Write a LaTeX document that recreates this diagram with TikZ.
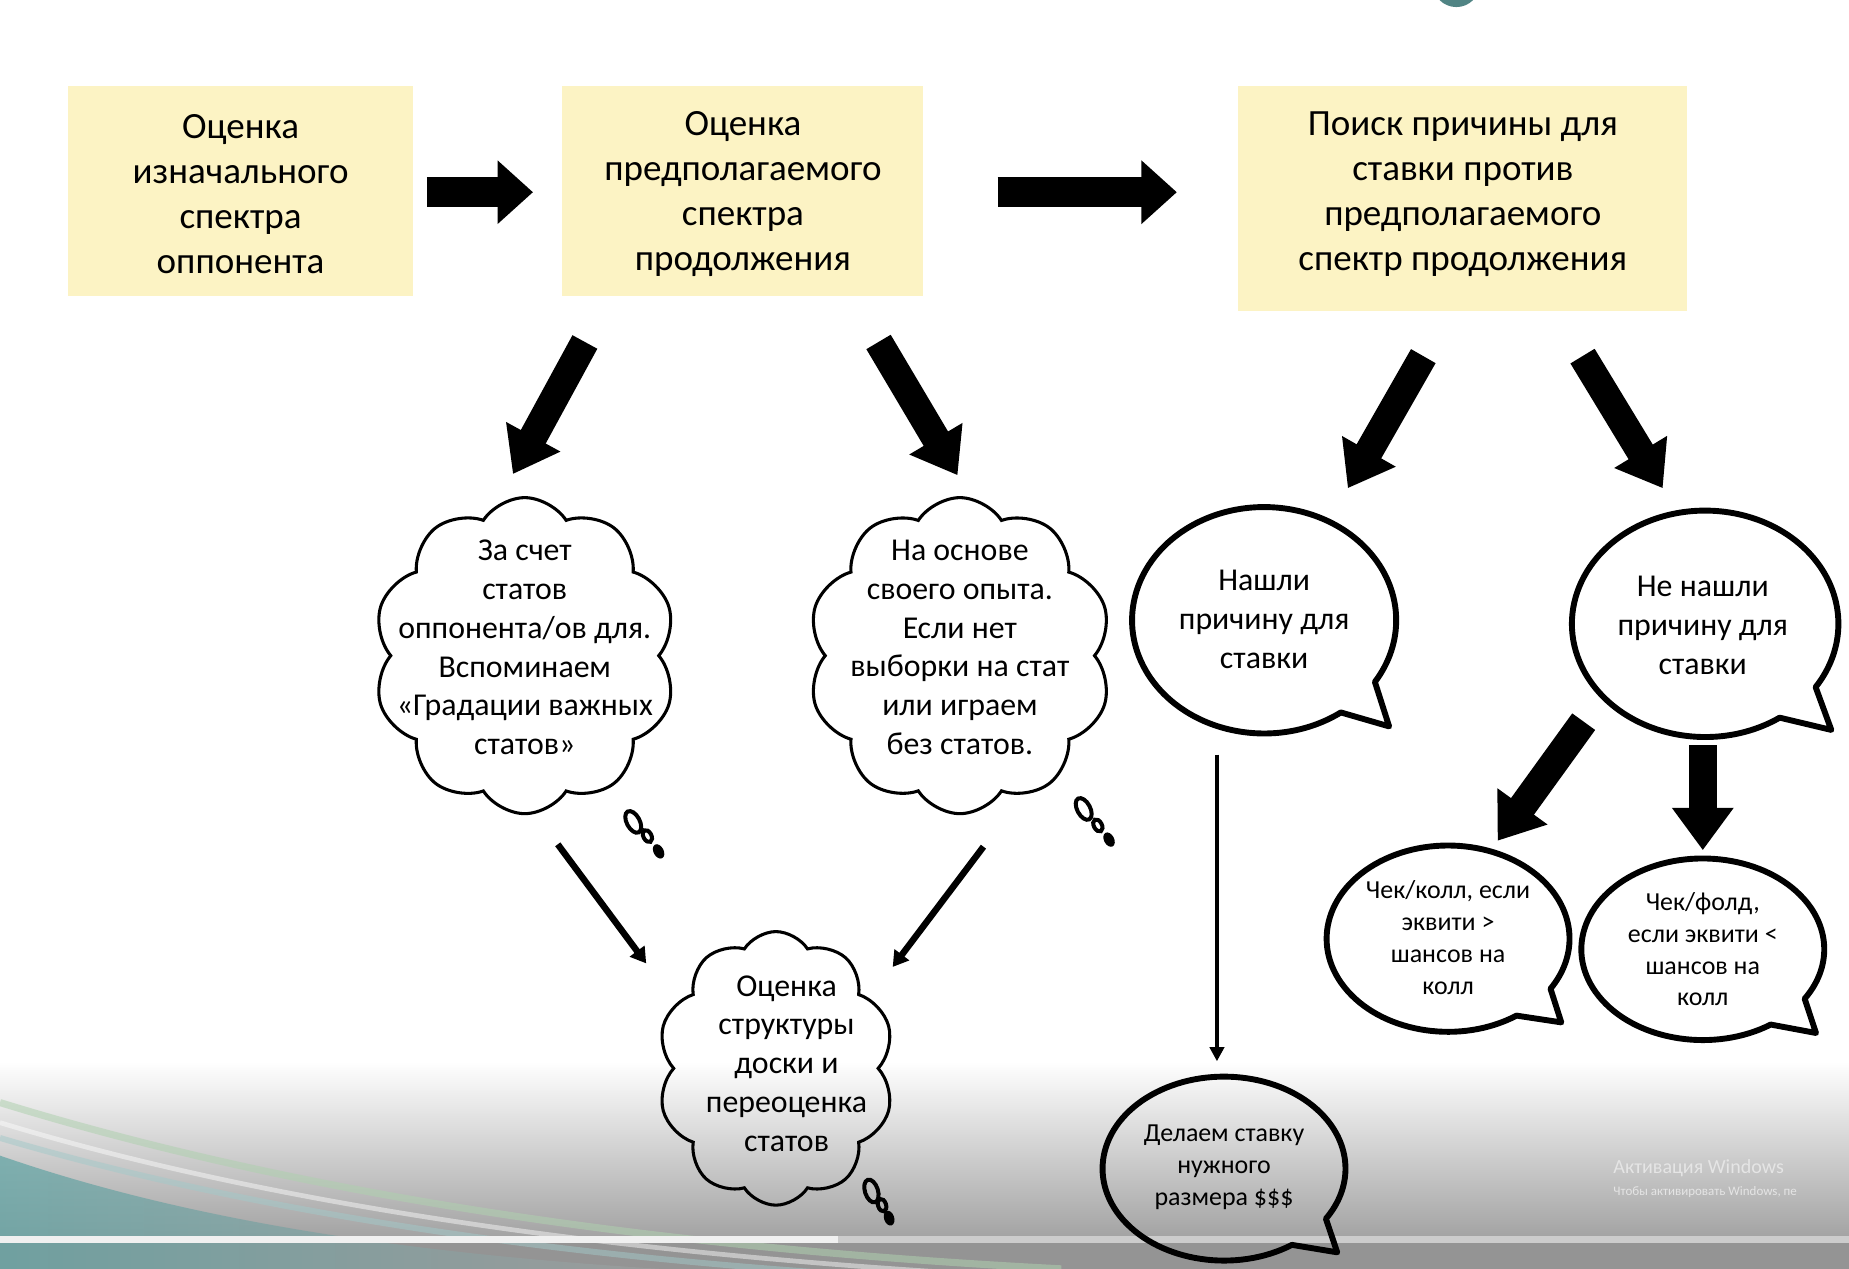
\documentclass[tikz,border=0pt]{standalone}
\usepackage{fontspec}
\setmainfont{Carlito}
\usetikzlibrary{arrows.meta,shapes.symbols,calc}
\definecolor{boxyellow}{RGB}{252,243,196}
\definecolor{tealbg}{RGB}{100,165,165}
\definecolor{greenline}{RGB}{175,208,175}
\newcommand{\speechbubble}[8]{%
  \draw[bubble] ({#1+#3*cos(#6)},{#2+#4*sin(#6)}) arc[start angle=#6, end angle={360+#5}, x radius=#3, y radius=#4] -- (#7,#8) -- cycle;}
\begin{document}
\begin{tikzpicture}[x=1pt,y=-1pt,
  topbox/.style={fill=boxyellow, draw=none, inner sep=0pt},
  boxtext/.style={align=center, font=\fontsize{31.4}{38.3}\selectfont, inner sep=0pt},
  cloudtext/.style={align=center, font=\fontsize{27}{33}\selectfont, inner sep=0pt},
  cloudshape/.style={cloud, cloud puffs=10, cloud puff arc=115, draw=black, line width=2.6pt, inner sep=0pt},
  bigtext/.style={align=center, font=\fontsize{27}{33}\selectfont, inner sep=0pt},
  smalltext/.style={align=center, font=\fontsize{22}{27}\selectfont, inner sep=0pt},
  bubble/.style={draw=black, line width=5pt, line join=round},
  bigarrow/.style={line width=25pt, -{Triangle[width=52pt,length=30pt]}},
  diagarrow/.style={line width=24pt, -{Triangle[width=50pt,length=36pt]}},
  thinarrow/.style={line width=5.5pt, -{Triangle[width=15pt,length=13pt]}},
  hairarrow/.style={line width=4pt, -{Triangle[width=12pt,length=12pt]}},
  ring/.style={draw=black, line width=3.4pt},
  watermark/.style={text=white!80!gray, inner sep=0pt, anchor=west}
]
% ---------- background ----------
\useasboundingbox (0,0) rectangle (1568,1076);
\fill[white] (0,0) rectangle (1568,1076);
\begin{scope}
\clip (0,0) rectangle (1568,1076);
\shade[top color=white, bottom color=white!64!black] (0,900) rectangle (1568,1049);
\fill[white!58!black] (0,1049) rectangle (1568,1076);
\shade[left color=tealbg, right color=white!62!black, opacity=0.75]
  (0,980) .. controls (150,1032) and (330,1062) .. (560,1076) -- (0,1076) -- cycle;
\draw[greenline, line width=6pt, opacity=0.55] (0,935) .. controls (250,1012) and (550,1058) .. (900,1076);
\draw[white, line width=4pt, opacity=0.45] (0,952) .. controls (230,1022) and (520,1062) .. (820,1080);
\draw[tealbg!60!white, line width=5pt, opacity=0.5] (0,965) .. controls (220,1030) and (480,1066) .. (740,1082);
\fill[white!94!black] (0,1048) rectangle (711,1054);
\fill[white!80!black] (711,1048) rectangle (1568,1054);
\fill[tealbg!80!black] (1235,-14) circle[radius=20];
\end{scope}
\node[watermark, font=\fontsize{17}{20}\selectfont] (wm1) at (1368,991) {Активация Windows};
\node[watermark, font=\fontsize{11}{13}\selectfont] (wm2) at (1368,1011) {Чтобы активировать Windows, пе};

% ---------- top boxes ----------
\node[topbox, minimum width=292pt, minimum height=178pt] (b1) at (204,162) {};
\node[boxtext] (t1) at (204,164.5) {Оценка\\изначального\\спектра\\оппонента};
\node[topbox, minimum width=306pt, minimum height=178pt] (b2) at (630,162) {};
\node[boxtext] (t2) at (630,164.5) {Оценка\\предполагаемого\\спектра\\продолжения};
\node[topbox, minimum width=381pt, minimum height=191pt] (b3) at (1240.5,168.5) {};
\node[boxtext] (t3) at (1240.5,164.5) {Поиск причины для\\ставки против\\предполагаемого\\спектр продолжения};

% ---------- clouds ----------
\node[cloudshape, minimum width=257pt, minimum height=268pt] (c1shape) at (445,556) {};
\node[cloudtext] (c1) at (445,549)
  {За счет\\статов\\оппонента/ов для.\\Вспоминаем\\«Градации важных\\статов»};
\node[cloudshape, minimum width=258pt, minimum height=268pt] (c2shape) at (814,556) {};
\node[cloudtext] (c2) at (814,549)
  {На основе\\своего опыта.\\Если нет\\выборки на стат\\или играем\\без статов.};
\node[cloudshape, minimum width=201pt, minimum height=232pt] (c3shape) at (658,906) {};
\node[cloudtext] (c3) at (667,902)
  {Оценка\\структуры\\доски и\\переоценка\\статов};

% thought dots
\draw[ring, rotate around={28:(537,697)}] (537,697) ellipse[x radius=5.5, y radius=10];
\draw[ring, rotate around={28:(549,709)}] (549,709) ellipse[x radius=3.4, y radius=5.5];
\fill[black, rotate around={28:(558.5,722)}] (558.5,722) ellipse[x radius=4.3, y radius=6.5];
\draw[ring, rotate around={28:(919,686)}] (919,686) ellipse[x radius=5.5, y radius=10];
\draw[ring, rotate around={28:(931,700)}] (931,700) ellipse[x radius=3.4, y radius=5.5];
\fill[black, rotate around={28:(940.5,712)}] (940.5,712) ellipse[x radius=4.3, y radius=6.5];
\draw[ring, rotate around={18:(739,1010)}] (739,1010) ellipse[x radius=5.5, y radius=10];
\draw[ring, rotate around={18:(748,1022)}] (748,1022) ellipse[x radius=3.4, y radius=5.5];
\fill[black, rotate around={18:(754,1033)}] (754,1033) ellipse[x radius=4.3, y radius=6.5];

% ---------- speech bubbles ----------
\speechbubble{1072}{526}{112}{96}{33}{54.5}{1178}{616}
\node[bigtext] (s1) at (1072,525) {Нашли\\причину для\\ставки};
\speechbubble{1446}{529}{113}{96}{34}{56}{1553}{619}
\node[bigtext] (s2) at (1444,530) {Не нашли\\причину для\\ставки};
\speechbubble{1228}{796}{103}{79}{32.5}{55.7}{1324}{867}
\node[smalltext] (s3) at (1228,795) {Чек/колл, если\\эквити >\\шансов на\\колл};
\speechbubble{1444}{805}{103}{77}{33}{56}{1540}{876}
\node[smalltext] (s4) at (1444,805) {Чек/фолд,\\если эквити <\\шансов на\\колл};
\speechbubble{1038}{991}{103}{78}{33}{56}{1134}{1062}
\node[smalltext] (s5) at (1038,990) {Делаем ставку\\нужного\\размера \$\$\$};

% ---------- arrow end points ----------
\coordinate (aA1) at (362,163);  \coordinate (aA2) at (452,163);
\coordinate (aB1) at (846,163);  \coordinate (aB2) at (998,163);
\coordinate (aC1) at (496,290);  \coordinate (aC2) at (435,402);
\coordinate (aD1) at (745,290);  \coordinate (aD2) at (812,403);
\coordinate (aE1) at (1207,302); \coordinate (aE2) at (1143,414);
\coordinate (aF1) at (1342,302); \coordinate (aF2) at (1410,414);
\coordinate (aG1) at (1343,612); \coordinate (aG2) at (1270,713);
\coordinate (aH1) at (1444,632); \coordinate (aH2) at (1444,721);
\coordinate (aI1) at (473,716);  \coordinate (aI2) at (548,817);
\coordinate (aJ1) at (834,718);  \coordinate (aJ2) at (757,820);
\coordinate (aK1) at (1032,640); \coordinate (aK2) at (1032,900);

% ---------- arrows ----------
\draw[bigarrow] (aA1) -- (aA2);
\draw[bigarrow] (aB1) -- (aB2);
\draw[diagarrow] (aC1) -- (aC2);
\draw[diagarrow] (aD1) -- (aD2);
\draw[diagarrow] (aE1) -- (aE2);
\draw[diagarrow] (aF1) -- (aF2);
\draw[diagarrow] (aG1) -- (aG2);
\draw[diagarrow] (aH1) -- (aH2);
\draw[thinarrow] (aI1) -- (aI2);
\draw[thinarrow] (aJ1) -- (aJ2);
\draw[hairarrow] (aK1) -- (aK2);
\end{tikzpicture}
\end{document}
